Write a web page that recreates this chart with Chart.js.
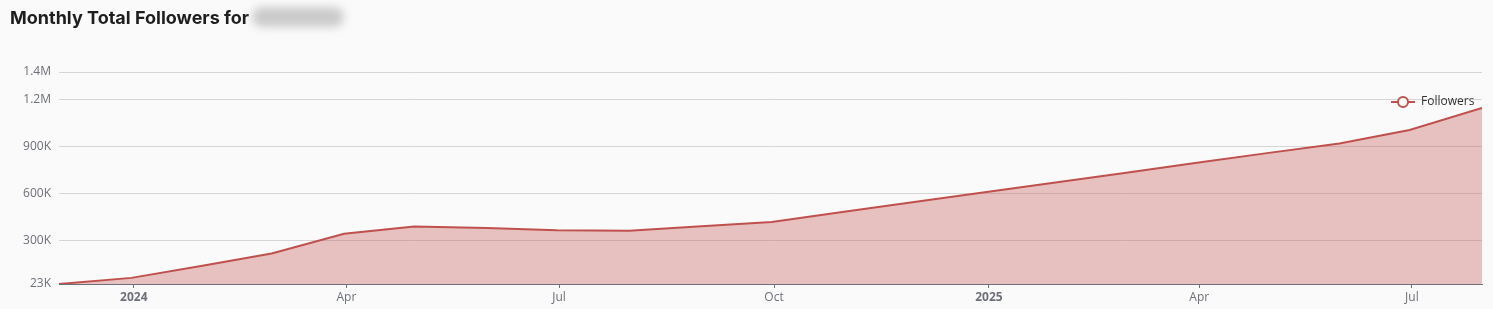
<!DOCTYPE html>
<html>
<head>
<meta charset="utf-8">
<script src="https://cdn.jsdelivr.net/npm/chart.js@4.4.1/dist/chart.umd.min.js"></script>
<style>
  html, body { margin: 0; padding: 0; background: #fafafa; }
  #wrap { position: relative; width: 1493px; height: 309px; }
  #title { position: absolute; left: 10px; top: 9px; font-family: Inter, "Open Sans", sans-serif; font-weight: 700; font-size: 18px; line-height: 18px; color: #1e1e1e; white-space: nowrap; }
  #blur { display: inline-block; vertical-align: middle; width: 92px; height: 20px; margin-left: 3px; margin-top: -4px; border-radius: 10px; background: #cbcbcb; filter: blur(4px); }
  canvas { position: absolute; left: 0; top: 0; }
</style>
</head>
<body>
<div id="wrap">
  <canvas id="c" width="1493" height="309"></canvas>
  <div id="title">Monthly Total Followers for<span id="blur"></span></div>
</div>
<script>
// ---- data ----
const dates = ['2023-11-30','2023-12-31','2024-01-31','2024-02-29','2024-03-31','2024-04-30','2024-05-31','2024-06-30','2024-07-31','2024-08-31','2024-09-30','2024-10-31','2024-11-30','2024-12-31','2025-01-31','2025-02-28','2025-03-31','2025-04-30','2025-05-31','2025-06-30','2025-07-31'];
const followers = [23000, 62000, 141000, 217000, 343000, 389000, 380000, 366000, 362000, 391000, 418000, 483000, 545000, 609000, 673000, 731000, 795000, 857000, 918000, 1005000, 1145000];
const yTicks = [23000, 300000, 600000, 900000, 1200000, 1374000];
const xTickDates = ['2024-01-01','2024-04-01','2024-07-01','2024-10-01','2025-01-01','2025-04-01','2025-07-01'];
const monthNames = ['Jan','Feb','Mar','Apr','May','Jun','Jul','Aug','Sep','Oct','Nov','Dec'];
const seriesLabel = 'Followers';

function toTs(s) { const p = s.split('-').map(Number); return Date.UTC(p[0], p[1]-1, p[2]); }
const points = dates.map((d, i) => ({ x: toTs(d), y: followers[i] }));

const RED = '#c0504d';
const FONT = '"Open Sans", "Noto Sans", sans-serif';

function fmt(v) {
  if (v >= 1000000) return (v / 1000000).toFixed(1).replace(/\.0$/, '.0') + 'M';
  return Math.round(v / 1000) + 'K';
}

const legendPlugin = {
  id: 'insideLegend',
  afterDraw(chart) {
    const ctx = chart.ctx, a = chart.chartArea;
    const y = a.top + 30;
    const x0 = a.right - 91;
    ctx.save();
    ctx.strokeStyle = RED; ctx.lineWidth = 2;
    ctx.beginPath(); ctx.moveTo(x0, y); ctx.lineTo(x0 + 24, y); ctx.stroke();
    ctx.beginPath(); ctx.arc(x0 + 12, y, 5, 0, Math.PI * 2);
    ctx.fillStyle = '#ffffff'; ctx.fill(); ctx.stroke();
    ctx.fillStyle = '#333333';
    ctx.font = '12px ' + FONT;
    ctx.textBaseline = 'middle';
    ctx.fillText(chart.data.datasets[0].label, x0 + 30, y);
    ctx.restore();
  }
};

new Chart(document.getElementById('c'), {
  type: 'line',
  data: {
    datasets: [{
      label: seriesLabel,
      data: points,
      borderColor: RED,
      borderWidth: 2,
      backgroundColor: 'rgba(192,80,77,0.33)',
      fill: 'start',
      tension: 0,
      pointRadius: 0,
      pointHoverRadius: 0
    }]
  },
  options: {
    responsive: false,
    animation: false,
    layout: { padding: { top: 72, right: 11, bottom: 0, left: 0 } },
    plugins: { legend: { display: false }, title: { display: false }, tooltip: { enabled: false } },
    scales: {
      x: {
        type: 'linear',
        min: toTs(dates[0]),
        max: toTs(dates[dates.length - 1]),
        afterBuildTicks(scale) { scale.ticks = xTickDates.map(d => ({ value: toTs(d) })); },
        afterFit(scale) { scale.height = 25; },
        grid: { drawOnChartArea: false, drawTicks: true, tickLength: 4, color: '#6e7079' },
        border: { display: true, color: '#6e7079', width: 1 },
        ticks: {
          autoSkip: false,
          maxRotation: 0,
          padding: 2,
          color: '#6e7079',
          font: (c) => {
            const d = new Date(c.tick ? c.tick.value : 0);
            return { family: FONT, size: 12, weight: d.getUTCMonth() === 0 ? 'bold' : 'normal' };
          },
          callback(v) {
            const d = new Date(v);
            return d.getUTCMonth() === 0 ? String(d.getUTCFullYear()) : monthNames[d.getUTCMonth()];
          }
        }
      },
      y: {
        type: 'linear',
        min: yTicks[0],
        max: yTicks[yTicks.length - 1],
        afterBuildTicks(scale) { scale.ticks = yTicks.map(v => ({ value: v })); },
        afterFit(scale) { scale.width = 59; },
        grid: { color: '#d6d6d6', lineWidth: 1, drawTicks: false },
        border: { display: false },
        ticks: {
          padding: 8,
          color: '#6e7079',
          font: { family: FONT, size: 12 },
          callback(v) { return fmt(v); }
        }
      }
    }
  },
  plugins: [legendPlugin]
});
</script>
</body>
</html>
